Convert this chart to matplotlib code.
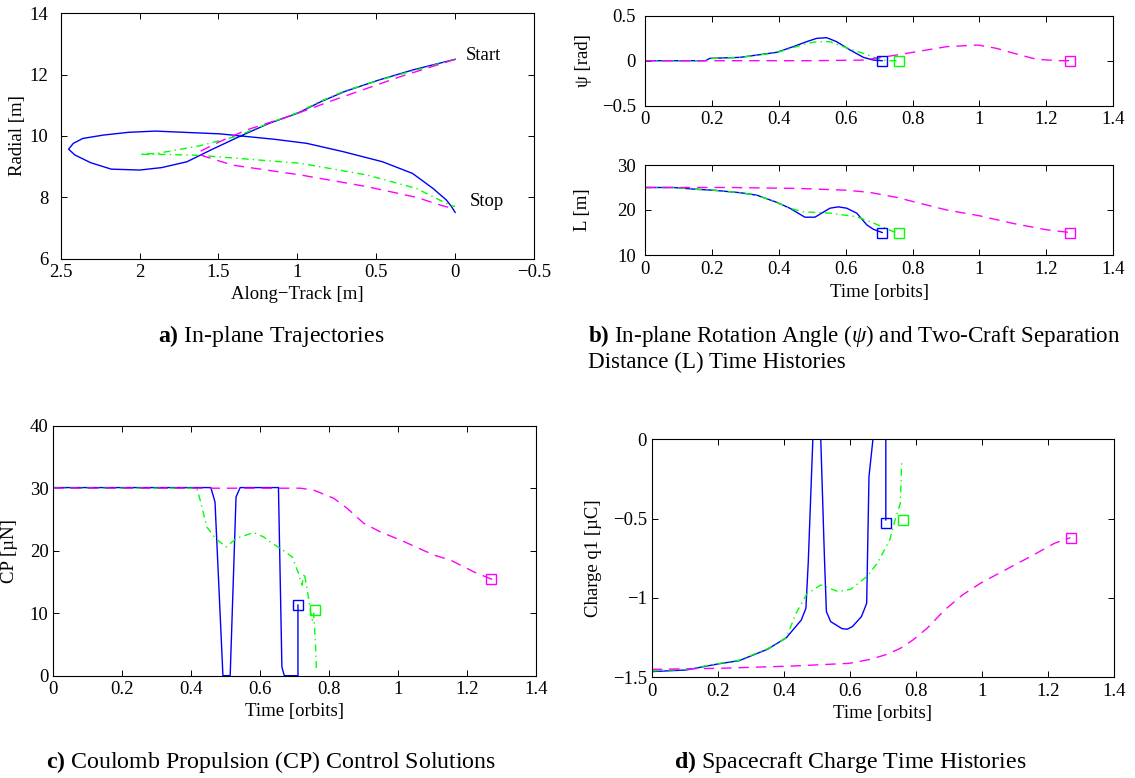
"""
Two-craft Coulomb reconfiguration: trajectories, angle/separation,
control and charge histories (three solution cases)
"""

import matplotlib
matplotlib.use('Agg')
import matplotlib.pyplot as plt
from matplotlib.ticker import FuncFormatter

plt.rcParams['font.family'] = ['Liberation Serif', 'DejaVu Serif']
plt.rcParams['mathtext.fontset'] = 'custom'
plt.rcParams['mathtext.rm'] = 'Liberation Serif'
plt.rcParams['mathtext.it'] = 'Liberation Serif:italic'
plt.rcParams['mathtext.bf'] = 'Liberation Serif:bold'

BLUE = '#0000ff'
GREEN = '#00ff00'
MAGENTA = '#ff00ff'
DASH = (7.5, 5)
DASHDOT = (5, 3, 1, 3)

# ---- a) in-plane trajectories (along-track, radial) ----
traj_blue_x = [0, 0.14, 0.27, 0.48, 0.70, 0.85, 1.00, 1.18, 1.36, 1.55, 1.70, 1.86, 2.00,
               2.18, 2.31, 2.41, 2.45, 2.42, 2.36, 2.23, 2.07, 1.90, 1.49, 1.14, 0.94,
               0.71, 0.46, 0.27, 0.14, 0.055, 0.023, 0.0]
traj_blue_y = [12.5, 12.32, 12.15, 11.83, 11.45, 11.12, 10.74, 10.41, 10.0, 9.54, 9.16, 8.97,
               8.89, 8.92, 9.13, 9.38, 9.57, 9.76, 9.92, 10.03, 10.12, 10.16, 10.07, 9.89,
               9.76, 9.49, 9.16, 8.78, 8.29, 7.91, 7.70, 7.51]
traj_green_x = [0, 0.14, 0.27, 0.48, 0.70, 0.85, 1.00, 1.18, 1.38, 1.62, 1.88, 2.0, 1.85,
                1.62, 0.98, 0.56, 0.245, 0.097, 0.034, 0.0]
traj_green_y = [12.5, 12.3, 12.12, 11.82, 11.47, 11.14, 10.76, 10.42, 10.0, 9.68, 9.44, 9.40,
                9.40, 9.37, 9.11, 8.73, 8.29, 7.91, 7.75, 7.70]
traj_mag_x = [0, 0.35, 0.77, 1.03, 1.32, 1.49, 1.62, 1.63, 1.53, 1.41, 0.98, 0.56, 0.245,
              0.076, 0.013]
traj_mag_y = [12.5, 11.93, 11.17, 10.68, 10.2, 9.82, 9.49, 9.41, 9.24, 9.05, 8.73, 8.35, 8.0,
              7.72, 7.64]

# ---- b) rotation angle psi [rad] ----
psi_t_blue = [0, 0.18, 0.194, 0.284, 0.394, 0.443, 0.483, 0.513, 0.543, 0.573, 0.613, 0.653,
              0.683, 0.709]
psi_blue = [0, 0, 0.026, 0.037, 0.093, 0.156, 0.211, 0.248, 0.256, 0.211, 0.119, 0.037,
            0.007, 0.0]
psi_t_green = [0, 0.18, 0.194, 0.284, 0.394, 0.443, 0.483, 0.513, 0.553, 0.593, 0.653, 0.693,
               0.722, 0.76]
psi_green = [0, 0, 0.024, 0.036, 0.09, 0.145, 0.19, 0.211, 0.211, 0.156, 0.081, 0.026, 0.0, 0.0]
psi_t_mag = [0, 0.5, 0.653, 0.752, 0.902, 0.996, 1.051, 1.111, 1.171, 1.24, 1.27]
psi_mag = [0, 0, 0.007, 0.063, 0.156, 0.174, 0.137, 0.074, 0.015, 0.0, 0.0]

# ---- b) separation distance L [m] ----
sep_t_blue = [0, 0.085, 0.154, 0.204, 0.284, 0.334, 0.394, 0.433, 0.478, 0.508, 0.528, 0.553,
              0.578, 0.603, 0.633, 0.663, 0.683, 0.709]
sep_blue = [25.0, 25.0, 24.6, 24.4, 23.85, 23.3, 21.7, 20.4, 18.4, 18.4, 19.3, 20.4, 20.7,
            20.4, 19.3, 16.7, 15.7, 15.0]
sep_t_green = [0, 0.085, 0.154, 0.204, 0.284, 0.334, 0.394, 0.433, 0.473, 0.553, 0.633, 0.673,
               0.709, 0.742, 0.76]
sep_green = [25.0, 25.0, 24.6, 24.4, 23.85, 23.3, 21.7, 20.4, 19.6, 19.3, 18.5, 17.4, 16.3,
             15.2, 15.0]
sep_t_mag = [0, 0.254, 0.453, 0.603, 0.673, 0.752, 0.832, 0.902, 1.001, 1.101, 1.201, 1.27]
sep_mag = [25.0, 25.0, 24.8, 24.4, 23.9, 22.8, 21.3, 20.0, 18.7, 17.0, 15.6, 15.0]

# ---- c) Coulomb propulsion control [uN] ----
cp_t_blue = [0, 0.457, 0.469, 0.492, 0.513, 0.53, 0.542, 0.653, 0.663, 0.67, 0.7096, 0.7096]
cp_blue = [30.1, 30.1, 27.8, 0, 0, 28.6, 30.1, 30.1, 1.4, 0, 0, 11.3]
cp_t_green = [0, 0.416, 0.426, 0.445, 0.47, 0.501, 0.532, 0.581, 0.61, 0.634, 0.658, 0.678,
              0.693, 0.711, 0.721, 0.728, 0.738, 0.747, 0.751, 0.755, 0.76, 0.763]
cp_green = [30, 30, 28.1, 23.8, 22, 20.6, 22, 22.9, 22.2, 21.2, 20.4, 19.6, 19.0, 16.4, 14.5,
            16.4, 13.2, 10.0, 8.9, 10.0, 5.7, 1.2]
cp_t_mag = [0, 0.716, 0.755, 0.813, 0.852, 0.9, 0.949, 1.007, 1.104, 1.152, 1.22, 1.273]
cp_mag = [30, 30, 29.7, 28.4, 26.8, 24.4, 23.0, 21.7, 19.3, 18.5, 16.6, 15.4]

# ---- d) spacecraft charge q1 [uC] ----
q_t_blue = [0, 0.104, 0.2, 0.265, 0.351, 0.408, 0.453, 0.467, 0.474, 0.488, 0.512, 0.523,
            0.529, 0.542, 0.576, 0.592, 0.608, 0.635, 0.651, 0.658, 0.670, 0.709, 0.709]
q_blue = [-1.464, -1.454, -1.416, -1.395, -1.323, -1.25, -1.139, -1.065, -0.78, 0, 0, -0.74,
          -1.086, -1.149, -1.193, -1.197, -1.18, -1.118, -1.034, -0.235, 0, 0, -0.508]
q_t_green = [0, 0.104, 0.2, 0.265, 0.351, 0.408, 0.415, 0.437, 0.469, 0.512, 0.565, 0.603,
             0.651, 0.683, 0.705, 0.721, 0.737, 0.753, 0.757]
q_green = [-1.46, -1.45, -1.414, -1.392, -1.32, -1.25, -1.212, -1.097, -0.977, -0.918, -0.96,
           -0.945, -0.866, -0.782, -0.697, -0.634, -0.508, -0.403, -0.151]
q_t_mag = [0, 0.211, 0.426, 0.598, 0.662, 0.716, 0.753, 0.791, 0.834, 0.887, 0.941, 0.995,
           1.07, 1.156, 1.22, 1.268]
q_mag = [-1.45, -1.443, -1.429, -1.412, -1.387, -1.353, -1.317, -1.265, -1.191, -1.076,
         -0.981, -0.908, -0.824, -0.729, -0.655, -0.62]

# final states (blue, green, magenta)
end_t = [0.71, 0.76, 1.27]
end_psi = [0.0, 0.0, 0.0]
end_sep = [15.0, 15.0, 15.0]
end_cp = [11.3, 10.5, 15.5]
end_q = [-0.53, -0.508, -0.62]
end_colors = [BLUE, GREEN, MAGENTA]

FS = 13.5
W, H = 1135, 778


def fmt(v, pos):
    s = '%g' % round(v, 6)
    if s == '-0':
        s = '0'
    return s.replace('-', '\u2212')


def make_axes(left, top, right, bottom):
    """Axes from pixel edges (top-left origin)"""
    ax = fig.add_axes([left / W, 1 - bottom / H, (right - left) / W, (bottom - top) / H])
    for s in ax.spines.values():
        s.set_linewidth(0.8)
    ax.tick_params(direction='in', top=True, right=True, length=4, width=0.7,
                   labelsize=FS, pad=4)
    ax.xaxis.set_major_formatter(FuncFormatter(fmt))
    ax.yaxis.set_major_formatter(FuncFormatter(fmt))
    return ax


def three_lines(ax, tb, yb, tg, yg, tm, ym):
    ax.plot(tb, yb, color=BLUE, lw=1.0)
    ax.plot(tg, yg, color=GREEN, lw=1.0, dashes=DASHDOT)
    ax.plot(tm, ym, color=MAGENTA, lw=1.0, dashes=DASH)


def end_squares(ax, vals):
    for t, v, c in zip(end_t, vals, end_colors):
        ax.plot(t, v, 's', ms=7, mfc='none', mec=c, mew=1.0, clip_on=False)


def set_ylabel_px(ax, text, offset_px):
    ax.set_ylabel(text, fontsize=FS, va='center', ha='center')
    w = ax.get_position().width * W
    ax.yaxis.set_label_coords(-offset_px / w, 0.5)


def set_xlabel_px(ax, text, offset_px):
    ax.set_xlabel(text, fontsize=FS, va='center', ha='center')
    h = ax.get_position().height * H
    ax.xaxis.set_label_coords(0.5, -offset_px / h)


fig = plt.figure(figsize=(W / 100, H / 100), dpi=100)

# a) trajectories
ax_a = make_axes(60.7, 13.3, 534, 258.7)
three_lines(ax_a, traj_blue_x, traj_blue_y, traj_green_x, traj_green_y, traj_mag_x, traj_mag_y)
ax_a.set_xlim(2.5, -0.5)
ax_a.set_ylim(6, 14)
ax_a.set_xticks([2.5, 2, 1.5, 1, 0.5, 0, -0.5])
ax_a.set_yticks([6, 8, 10, 12, 14])
ax_a.tick_params(axis='y', pad=9)
ax_a.text(-0.07, 12.62, 'Start', fontsize=FS, va='center', ha='left')
ax_a.text(-0.09, 7.88, 'Stop', fontsize=FS, va='center', ha='left')
set_ylabel_px(ax_a, 'Radial [m]', 43)
set_xlabel_px(ax_a, 'Along\u2212Track [m]', 36)

# b) psi and L
ax_psi = make_axes(645, 15.7, 1113.3, 105.7)
three_lines(ax_psi, psi_t_blue, psi_blue, psi_t_green, psi_green, psi_t_mag, psi_mag)
end_squares(ax_psi, end_psi)
ax_psi.set_xlim(0, 1.4)
ax_psi.set_ylim(-0.5, 0.5)
ax_psi.set_yticks([-0.5, 0, 0.5])
ax_psi.tick_params(axis='y', pad=6.5)
set_ylabel_px(ax_psi, '\u03c8 [rad]', 62)

ax_L = make_axes(645, 165, 1113.3, 255)
three_lines(ax_L, sep_t_blue, sep_blue, sep_t_green, sep_green, sep_t_mag, sep_mag)
end_squares(ax_L, end_sep)
ax_L.set_xlim(0, 1.4)
ax_L.set_ylim(10, 30)
ax_L.set_yticks([10, 20, 30])
ax_L.tick_params(axis='y', pad=6.5)
set_ylabel_px(ax_L, 'L [m]', 62)
set_xlabel_px(ax_L, 'Time [orbits]', 37)

# c) CP control
ax_c = make_axes(53.3, 425.7, 536, 675.7)
three_lines(ax_c, cp_t_blue, cp_blue, cp_t_green, cp_green, cp_t_mag, cp_mag)
end_squares(ax_c, end_cp)
ax_c.set_xlim(0, 1.4)
ax_c.set_ylim(0, 40)
ax_c.set_yticks([0, 10, 20, 30, 40])
ax_c.tick_params(axis='y', pad=3.5)
set_ylabel_px(ax_c, 'CP [\u00b5N]', 44)
set_xlabel_px(ax_c, 'Time [orbits]', 36)

# d) charge
ax_d = make_axes(651.7, 439.3, 1114, 677.3)
three_lines(ax_d, q_t_blue, q_blue, q_t_green, q_green, q_t_mag, q_mag)
end_squares(ax_d, end_q)
ax_d.set_xlim(0, 1.4)
ax_d.set_ylim(-1.5, 0)
ax_d.set_yticks([-1.5, -1, -0.5, 0])
ax_d.tick_params(axis='y', pad=3.5)
set_ylabel_px(ax_d, 'Charge q1 [\u00b5C]', 58)
set_xlabel_px(ax_d, 'Time [orbits]', 36)

for ax in (ax_psi, ax_L, ax_c, ax_d):
    ax.set_xticks([0, 0.2, 0.4, 0.6, 0.8, 1, 1.2, 1.4])

# captions
CFS = 17.2
fig.text(158 / W, 1 - 341.7 / H, r'$\mathbf{a)}$ In-plane Trajectories', fontsize=CFS,
         va='baseline', ha='left')
fig.text(588 / W, 1 - 341.7 / H,
         r'$\mathbf{b)}$ In-plane Rotation Angle ($\psi$) and Two-Craft Separation',
         fontsize=16.6, va='baseline', ha='left')
fig.text(588 / W, 1 - 367.7 / H, 'Distance (L) Time Histories', fontsize=16.6,
         va='baseline', ha='left')
fig.text(46 / W, 1 - 768 / H, r'$\mathbf{c)}$ Coulomb Propulsion (CP) Control Solutions',
         fontsize=CFS, va='baseline', ha='left')
fig.text(674 / W, 1 - 768 / H, r'$\mathbf{d)}$ Spacecraft Charge Time Histories',
         fontsize=CFS, va='baseline', ha='left')

fig.savefig('out.png', dpi=100)
